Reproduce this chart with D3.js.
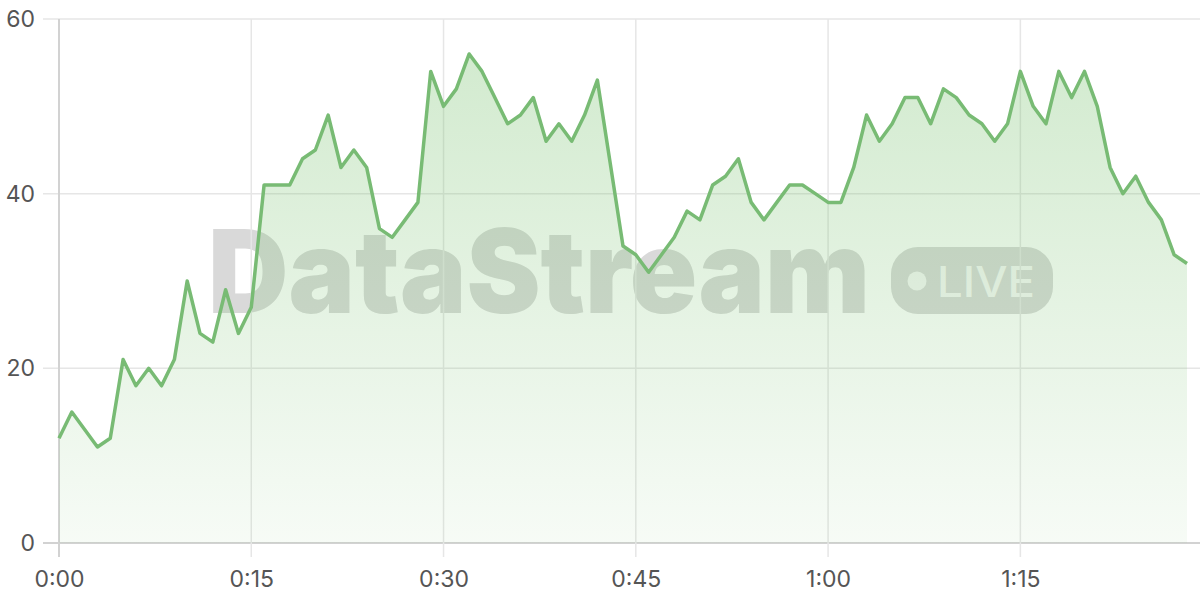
<!DOCTYPE html>
<html><head><meta charset="utf-8">
<script src="https://cdn.jsdelivr.net/npm/d3@7"></script>
<style>
html,body{margin:0;padding:0;background:#fff;}
svg{display:block;}
</style></head>
<body>
<svg id="chart" width="1200" height="600"></svg>
<script>
const minutes = d3.range(0, 89);
const values = [12,15,13,11,12,21,18,20,18,21,
  30,24,23,29,24,27,41,41,41,44,
  45,49,43,45,43,36,35,37,39,54,
  50,52,56,54,51,48,49,51,46,48,
  46,49,53,43.5,34,33,31,33,35,38,
  37,41,42,44,39,37,39,41,41,40,
  39,39,43,49,46,48,51,51,48,52,
  51,49,48,46,48,54,50,48,54,51,
  54,50,43,40,42,39,37,33,32];
const yTicks = [0,20,40,60];
const xTicks = [0,15,30,45,60,75];
const xTickLabels = ["0:00","0:15","0:30","0:45","1:00","1:15"];
const watermarkText = "DataStream";
const badgeText = "LIVE";

(function(){
const data = minutes.map((m,i)=>({m, v: values[i]}));
const svg = d3.select("#chart");
const mLeft = 59, mRight = 1200, mTop = 19, mBottom = 543;
const x = d3.scaleLinear().domain([0, 88]).range([mLeft, 1187]);
const y = d3.scaleLinear().domain([0, 60]).range([mBottom, mTop]);

const defs = svg.append("defs");
const grad = defs.append("linearGradient").attr("id","fillGrad")
  .attr("gradientUnits","userSpaceOnUse")
  .attr("x1",0).attr("x2",0).attr("y1",y(56)).attr("y2",mBottom);
grad.append("stop").attr("offset",0).attr("stop-color","#73bf69").attr("stop-opacity",0.32);
grad.append("stop").attr("offset",1).attr("stop-color","#73bf69").attr("stop-opacity",0.06);

// watermark (under grid and fill)
const wm = svg.append("g");
wm.append("text").attr("x", 208).attr("y", 313)
  .attr("font-family","Inter, 'Open Sans', sans-serif").attr("font-weight", 900)
  .attr("font-size", 116).attr("fill", "#d9d9d9")
  .attr("textLength", 662).attr("lengthAdjust","spacingAndGlyphs")
  .text(watermarkText);
wm.append("rect").attr("x", 891).attr("y", 247).attr("width", 162).attr("height", 67)
  .attr("rx", 27).attr("fill", "#d9d9d9");
wm.append("circle").attr("cx", 917).attr("cy", 281).attr("r", 9.5).attr("fill", "#f7f7f7");
wm.append("text").attr("x", 937).attr("y", 297)
  .attr("font-family","Inter, 'Open Sans', sans-serif").attr("font-weight", 500)
  .attr("font-size", 42).attr("fill", "#f7f7f7")
  .attr("textLength", 98).attr("lengthAdjust","spacingAndGlyphs")
  .text(badgeText);

const grid = svg.append("g");
grid.selectAll("line.h").data(yTicks).join("line")
  .attr("x1", 43).attr("x2", mRight)
  .attr("y1", d=>y(d)).attr("y2", d=>y(d))
  .attr("stroke", d=> d===0 ? "#d2d2d2" : "#e6e6e6").attr("stroke-width", d=> d===0?2:1.5);
grid.selectAll("line.v").data(xTicks).join("line")
  .attr("y1", mTop).attr("y2", 557)
  .attr("x1", d=>x(d)).attr("x2", d=>x(d))
  .attr("stroke", d=> d===0 ? "#d2d2d2" : "#e6e6e6").attr("stroke-width", d=> d===0?2:1.5);

const area = d3.area().x(d=>x(d.m)).y0(mBottom).y1(d=>y(d.v));
svg.append("path").datum(data).attr("d", area).attr("fill","url(#fillGrad)");

const line = d3.line().x(d=>x(d.m)).y(d=>y(d.v));
svg.append("path").datum(data).attr("d", line)
  .attr("fill","none").attr("stroke","#78bb74").attr("stroke-width",3.5)
  .attr("stroke-linejoin","round");

const yAxis = d3.axisLeft(y).tickValues(yTicks).tickSize(0).tickPadding(24);
const ya = svg.append("g").attr("transform", `translate(${mLeft},0)`).call(yAxis);
ya.select(".domain").remove();
ya.selectAll("text").attr("font-family","Inter, 'Liberation Sans', sans-serif")
  .attr("font-size", 23).attr("fill","#555");

const xAxis = d3.axisBottom(x).tickValues(xTicks).tickFormat((d,i)=>xTickLabels[i]).tickSize(0).tickPadding(28);
const xa = svg.append("g").attr("transform", `translate(0,${mBottom})`).call(xAxis);
xa.select(".domain").remove();
xa.selectAll("text").attr("font-family","Inter, 'Liberation Sans', sans-serif")
  .attr("font-size", 23).attr("fill","#555");
})();
</script>
</body></html>
